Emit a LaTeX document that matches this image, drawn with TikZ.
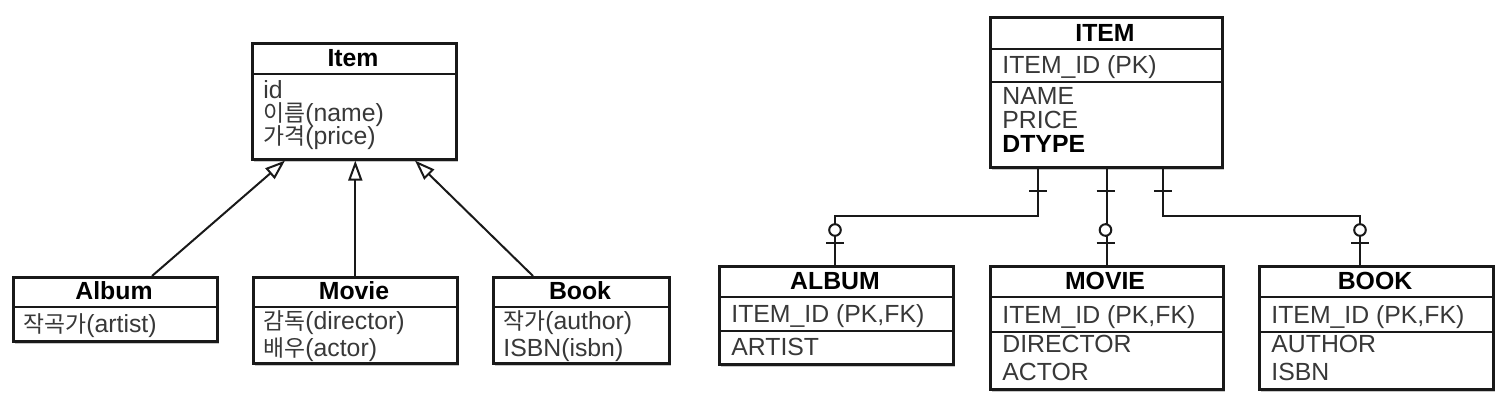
\documentclass[tikz,border=0pt]{standalone}
\usepackage{fontspec}
\setmainfont{Liberation Sans}
\newfontfamily\kr[Scale=0.92]{Noto Sans CJK KR}
\usetikzlibrary{arrows.meta,shadows}
\begin{document}
\begin{tikzpicture}[x=0.5pt,y=-0.5pt,
  box/.style={draw=black!90, line width=1.3pt, fill=white, inner sep=0pt, anchor=north west,
    drop shadow={shadow xshift=0.6pt, shadow yshift=-1.3pt, fill=black, opacity=0.22}},
  div/.style={draw=black!90, line width=1.3pt},
  title/.style={inner sep=0pt, text height=8.8pt, text depth=0pt, font=\fontsize{12.4pt}{14pt}\selectfont\bfseries, text=black},
  row/.style={inner sep=0pt, anchor=west, text height=8.8pt, text depth=0pt, font=\fontsize{12.4pt}{14pt}\selectfont, text=black!78},
  inh/.style={draw=black!90, line width=1pt, -{Triangle[open, length=10pt, width=7pt, line width=1pt]}},
  conn/.style={draw=black!90, line width=1pt},
  circ/.style={draw=black!90, line width=1pt, fill=white}
]
\useasboundingbox (0,0) rectangle (1510,408);

% ---------------- UML class diagram ----------------
\node[box, minimum width=102pt, minimum height=58pt] (item) at (251,42) {};
\draw[div] (item.west |- 0,74) -- (item.east |- 0,74);
\node[title] (itemT) at (353,58) {Item};
\node[row] (itemR1) at (263,90) {id};
\node[row] (itemR2) at (263,113) {{\kr 이름}(name)};
\node[row] (itemR3) at (263,136) {{\kr 가격}(price)};

\node[box, minimum width=102pt, minimum height=32pt] (album) at (12,276) {};
\draw[div] (album.west |- 0,307) -- (album.east |- 0,307);
\node[title] (albumT) at (114,291) {Album};
\node[row] (albumR1) at (23,324) {{\kr 작곡가}(artist)};

\node[box, minimum width=102pt, minimum height=43pt] (movie) at (252,276) {};
\draw[div] (movie.west |- 0,307) -- (movie.east |- 0,307);
\node[title] (movieT) at (354,291) {Movie};
\node[row] (movieR1) at (263,321) {{\kr 감독}(director)};
\node[row] (movieR2) at (263,348) {{\kr 배우}(actor)};

\node[box, minimum width=88pt, minimum height=43pt] (book) at (492,276) {};
\draw[div] (book.west |- 0,307) -- (book.east |- 0,307);
\node[title] (bookT) at (580,291) {Book};
\node[row] (bookR1) at (503,321) {{\kr 작가}(author)};
\node[row] (bookR2) at (503,348) {ISBN(isbn)};

\draw[inh] (album.north -| 152,0) -- (item.south -| 285,0);
\draw[inh] (movie.north) -- (item.south -| movie.north);
\draw[inh] (book.north -| 533,0) -- (item.south -| 415,0);

% ---------------- ERD ----------------
\node[box, minimum width=116pt, minimum height=75pt] (ITEM) at (989,16) {};
\draw[div] (ITEM.west |- 0,49) -- (ITEM.east |- 0,49);
\draw[div] (ITEM.west |- 0,82) -- (ITEM.east |- 0,82);
\node[title] (ITEMT) at (1105,33) {ITEM};
\node[row] (ITEMR1) at (1002,65) {ITEM\_ID (PK)};
\node[row] (ITEMR2) at (1002,96) {NAME};
\node[row] (ITEMR3) at (1002,120) {PRICE};
\node[row, font=\fontsize{12.4pt}{14pt}\selectfont\bfseries, text=black] (ITEMR4) at (1002,144) {DTYPE};

\node[box, minimum width=117pt, minimum height=49pt] (ALBUM) at (718,265) {};
\draw[div] (ALBUM.west |- 0,297) -- (ALBUM.east |- 0,297);
\draw[div] (ALBUM.west |- 0,331) -- (ALBUM.east |- 0,331);
\node[title] (ALBUMT) at (835,281) {ALBUM};
\node[row] (ALBUMR1) at (731,314) {ITEM\_ID (PK,FK)};
\node[row] (ALBUMR2) at (731,347) {ARTIST};

\node[box, minimum width=116.5pt, minimum height=61.5pt] (MOVIE) at (989,265) {};
\draw[div] (MOVIE.west |- 0,297) -- (MOVIE.east |- 0,297);
\draw[div] (MOVIE.west |- 0,332) -- (MOVIE.east |- 0,332);
\node[title] (MOVIET) at (1105,281) {MOVIE};
\node[row] (MOVIER1) at (1002,315) {ITEM\_ID (PK,FK)};
\node[row] (MOVIER2) at (1002,344) {DIRECTOR};
\node[row] (MOVIER3) at (1002,372) {ACTOR};

\node[box, minimum width=117pt, minimum height=61.5pt] (BOOK) at (1258,265) {};
\draw[div] (BOOK.west |- 0,297) -- (BOOK.east |- 0,297);
\draw[div] (BOOK.west |- 0,332) -- (BOOK.east |- 0,332);
\node[title] (BOOKT) at (1375,281) {BOOK};
\node[row] (BOOKR1) at (1271,315) {ITEM\_ID (PK,FK)};
\node[row] (BOOKR2) at (1271,344) {AUTHOR};
\node[row] (BOOKR3) at (1271,372) {ISBN};

% connectors
\coordinate (j1) at (1038,216);
\coordinate (j2) at (835,216);
\coordinate (j3) at (1163,216);
\coordinate (j4) at (1360,216);
\draw[conn] (ITEM.south -| j1) -- (j1) -- (j2) -- (ALBUM.north -| j2);
\draw[conn] (ITEM.south -| MOVIE.north) -- (MOVIE.north);
\draw[conn] (ITEM.south -| j3) -- (j3) -- (j4) -- (BOOK.north -| j4);

% one marks near ITEM
\foreach \lx in {1038,1105.5,1163} {
  \draw[conn] (\lx-9,191) -- (\lx+9,191);
}
% zero-or-one marks near children
\foreach \lx in {835,1105.5,1360} {
  \draw[conn] (\lx-9,243) -- (\lx+9,243);
  \draw[circ] (\lx,230) circle[radius=2.9pt];
}
\end{tikzpicture}
\end{document}
